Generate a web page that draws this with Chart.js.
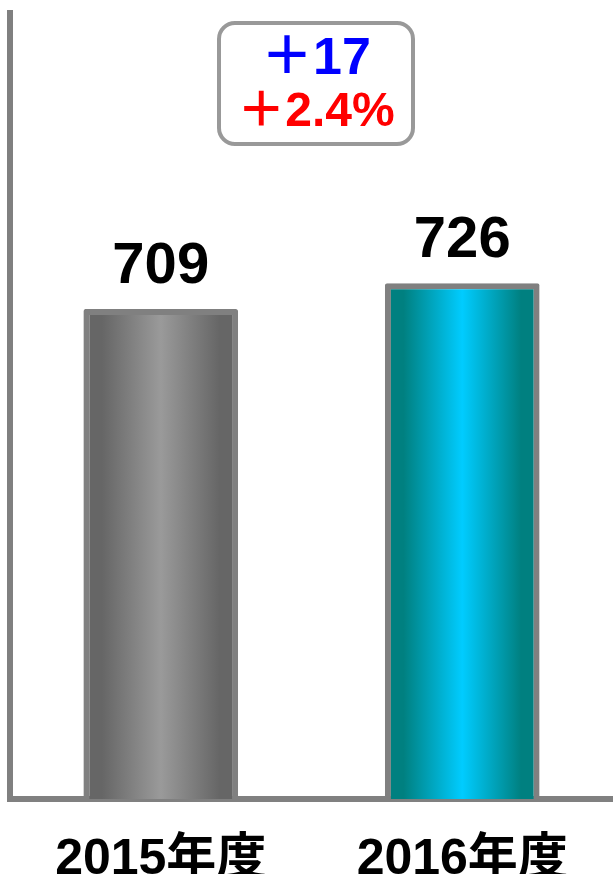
<!DOCTYPE html>
<html>
<head>
<meta charset="utf-8">
<script src="https://cdn.jsdelivr.net/npm/chart.js@4/dist/chart.umd.min.js"></script>
<style>
html,body{margin:0;padding:0;background:#fff;}
#wrap{width:613px;height:874px;position:relative;}
</style>
</head>
<body>
<div id="wrap"><canvas id="c" width="613" height="874"></canvas></div>
<script>
const categories = ['2015年度', '2016年度'];
const values = [709, 726];
const diffLabels = ['＋17', '＋2.4%'];
const yMin = 388;
const yMax = 903;

const gradStops = [
  ['#666666', '#9a9a9a', '#666666'],
  ['#008080', '#00ccff', '#008080']
];
const FONT = '"Liberation Sans", "Noto Sans CJK JP", sans-serif';

const gradientPlugin = {
  id: 'grad',
  beforeDatasetsDraw(chart) {
    const ctx = chart.ctx;
    chart.getDatasetMeta(0).data.forEach((el, i) => {
      const x0 = el.x - el.width / 2, x1 = el.x + el.width / 2;
      const g = ctx.createLinearGradient(x0, 0, x1, 0);
      const s = gradStops[i];
      g.addColorStop(0, s[0]);
      g.addColorStop(0.12, s[0]);
      g.addColorStop(0.5, s[1]);
      g.addColorStop(0.88, s[2]);
      g.addColorStop(1, s[2]);
      el.options = Object.assign({}, el.options, {backgroundColor: g});
    });
  }
};

const labelPlugin = {
  id: 'vals',
  afterDatasetsDraw(chart) {
    const ctx = chart.ctx;
    ctx.save();
    ctx.font = 'bold 58px ' + FONT;
    ctx.fillStyle = '#000';
    ctx.textAlign = 'center';
    ctx.textBaseline = 'alphabetic';
    chart.getDatasetMeta(0).data.forEach((el, i) => {
      ctx.fillText(String(values[i]), el.x, el.y - 26);
    });
    ctx.restore();
  }
};

const boxPlugin = {
  id: 'box',
  afterDraw(chart) {
    const ctx = chart.ctx;
    ctx.save();
    ctx.lineWidth = 4;
    ctx.strokeStyle = '#999999';
    ctx.fillStyle = '#ffffff';
    ctx.beginPath();
    ctx.roundRect(219, 23, 194, 121, 16);
    ctx.fill();
    ctx.stroke();
    ctx.textAlign = 'center';
    ctx.textBaseline = 'alphabetic';
    ctx.font = 'bold 52px ' + FONT;
    ctx.fillStyle = '#0000ff';
    ctx.fillText(diffLabels[0], 316, 74);
    ctx.font = 'bold 48px ' + FONT;
    ctx.fillStyle = '#ff0000';
    ctx.fillText(diffLabels[1], 316, 126);
    ctx.restore();
  }
};

new Chart(document.getElementById('c'), {
  type: 'bar',
  data: {
    labels: categories,
    datasets: [{
      data: values,
      backgroundColor: '#999999',
      borderColor: '#808080',
      borderWidth: 6,
      borderSkipped: 'bottom',
      borderRadius: 2,
      barPercentage: 0.513,
      categoryPercentage: 1
    }]
  },
  options: {
    responsive: false,
    animation: false,
    devicePixelRatio: 1,
    layout: {padding: {top: 13, left: 10, right: 0, bottom: -47}},
    plugins: {legend: {display: false}, tooltip: {enabled: false}},
    scales: {
      x: {
        grid: {display: false, drawTicks: false},
        border: {display: true, color: '#808080', width: 6},
        ticks: {color: '#000', font: {family: FONT, size: 50, weight: 'bold', lineHeight: 1}, padding: 36, maxRotation: 0}
      },
      y: {
        min: yMin, max: yMax,
        grid: {display: false, drawTicks: false},
        border: {display: true, color: '#808080', width: 6},
        ticks: {display: false}
      }
    }
  },
  plugins: [gradientPlugin, labelPlugin, boxPlugin]
});
</script>
</body>
</html>
